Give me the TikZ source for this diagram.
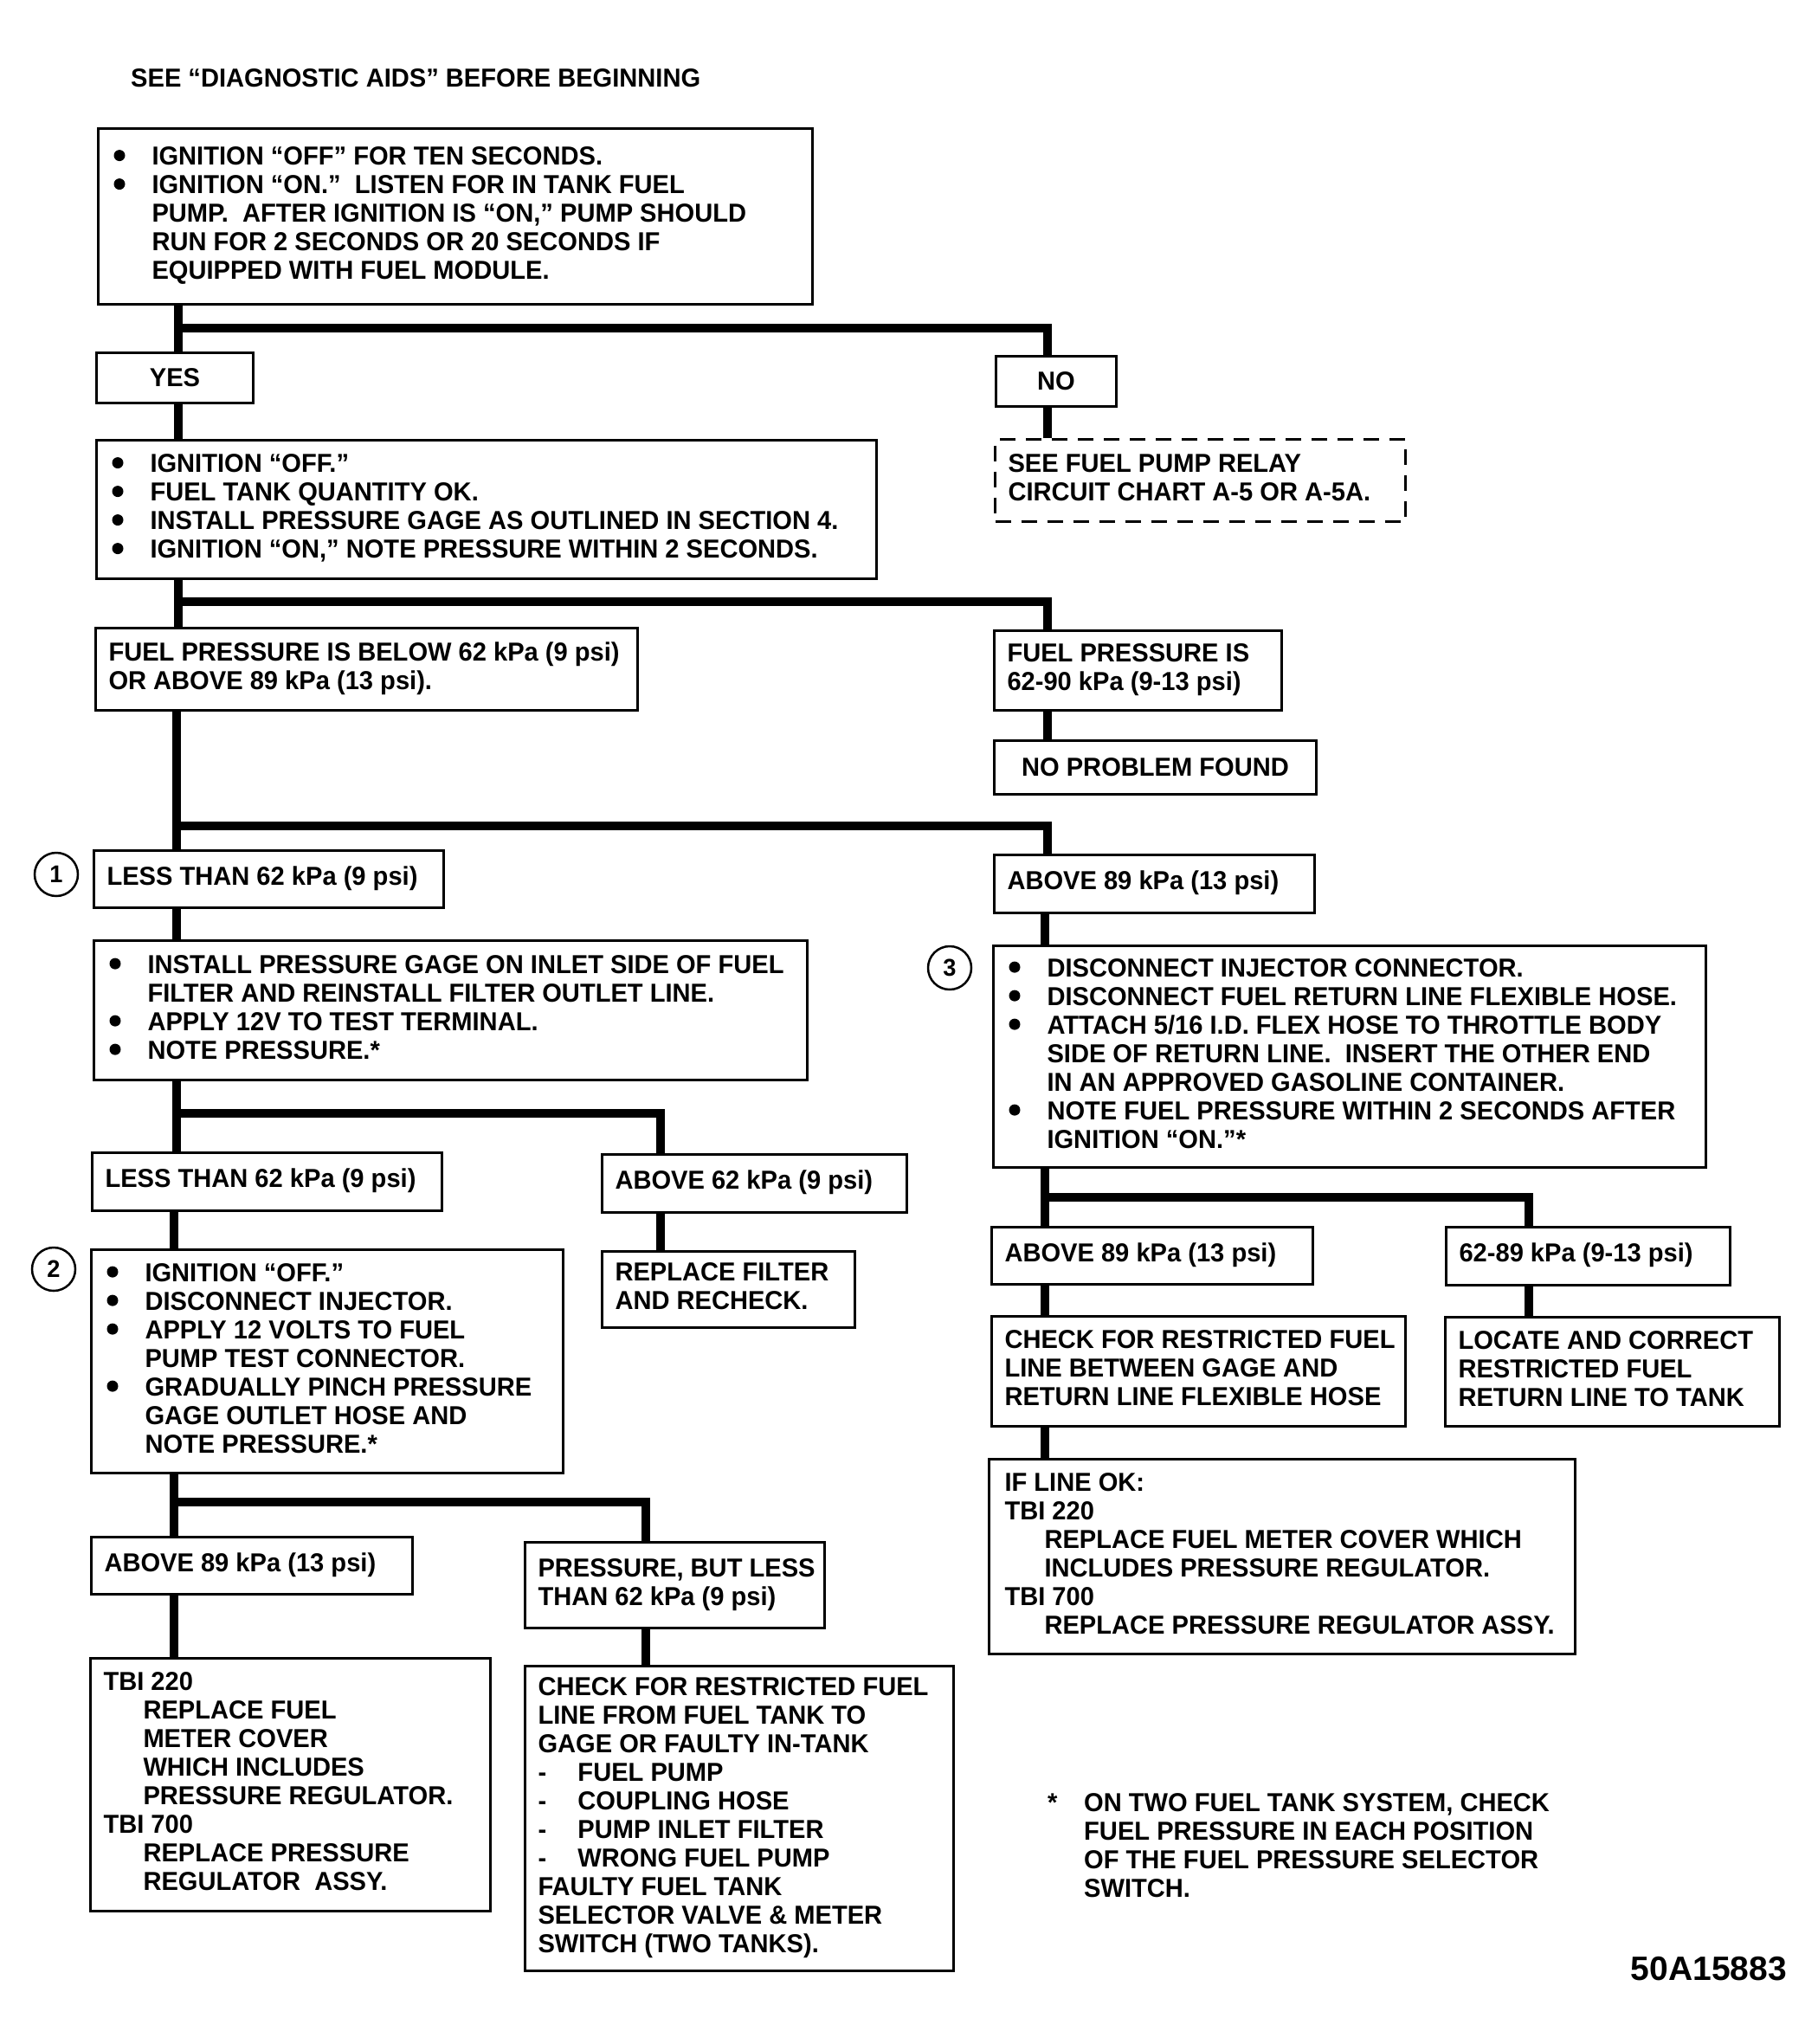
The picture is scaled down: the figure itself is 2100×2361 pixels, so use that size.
\documentclass[tikz,border=0pt]{standalone}
\usepackage{fontspec}
\usetikzlibrary{calc}
\newfontfamily\dgfont{Liberation Sans}[FakeStretch=0.97]
\newfontfamily\cdfont{Liberation Sans}
\newcommand{\myf}{\dgfont\bfseries\fontsize{30}{33}\selectfont}
\newcommand{\kTab}[2]{\makebox[#1pt][l]{\begin{tabular}{@{}l@{}}#2\end{tabular}}}
\newcommand{\kBul}{\hspace*{45pt}}
\newcommand{\kInd}{\hspace*{45pt}}
\newcommand{\kTi}{\hspace*{46pt}}
\newcommand{\kDash}{\makebox[46pt][l]{-}}
\tikzset{
  bx/.style={draw, line width=3pt, anchor=north west, inner xsep=15pt, inner ysep=0pt, font=\myf},
  bbx/.style={bx, inner xsep=17pt},
  cbx/.style={draw, line width=3pt, anchor=north west, inner sep=0pt, font=\myf},
  conn/.style={line width=10pt, line join=miter},
  num/.style={draw, circle, line width=2.5pt, minimum size=50pt, inner sep=0pt, font=\dgfont\bfseries\fontsize{28}{30}\selectfont},
  bulletdot/.style={fill=black},
}
\begin{document}
\begin{tikzpicture}[x=1pt,y=-1pt]
\fill[white] (0,0) rectangle (2100,2361);
\useasboundingbox (0,0) rectangle (2100,2361);

\node[anchor=base west, inner sep=0pt, font=\myf] (title) at (151,100) {SEE “DIAGNOSTIC AIDS” BEFORE BEGINNING};

\node[bbx, minimum height=203pt] (box1) at (112,147) {\kTab{791}{%
\kBul IGNITION “OFF” FOR TEN SECONDS.\\
\kBul IGNITION “ON.”\ \ LISTEN FOR IN TANK FUEL\\
\kInd PUMP.\ \ AFTER IGNITION IS “ON,” PUMP SHOULD\\
\kInd RUN FOR 2 SECONDS OR 20 SECONDS IF\\
\kInd EQUIPPED WITH FUEL MODULE.}};

\node[cbx, minimum width=181pt, minimum height=58pt] (yes) at (110,406) {YES};
\node[cbx, minimum width=139pt, minimum height=58pt] (no) at (1149,410) {NO};
\node[bx, dash pattern=on 18pt off 12pt, minimum height=95pt] (relay) at (1148,506) {\kTab{444}{%
SEE FUEL PUMP RELAY\\
CIRCUIT CHART A-5 OR A-5A.}};

\node[bbx, minimum height=160pt] (box2) at (110,507) {\kTab{867}{%
\kBul IGNITION “OFF.”\\
\kBul FUEL TANK QUANTITY OK.\\
\kBul INSTALL PRESSURE GAGE AS OUTLINED IN SECTION 4.\\
\kBul IGNITION “ON,” NOTE PRESSURE WITHIN 2 SECONDS.}};

\node[bx, minimum height=95pt] (below) at (109,724) {\kTab{596}{%
FUEL PRESSURE IS BELOW 62 kPa (9 psi)\\
OR ABOVE 89 kPa (13 psi).}};
\node[bx, minimum height=92pt] (ok) at (1147,727) {\kTab{302}{%
FUEL PRESSURE IS\\
62-90 kPa (9-13 psi)}};
\node[cbx, minimum width=372pt, minimum height=62pt] (nopf) at (1147,854) {NO PROBLEM FOUND};

\node[bx, minimum height=66pt] (less1) at (107,981) {\kTab{374}{LESS THAN 62 kPa (9 psi)}};
\node[bx, minimum height=67pt] (above1) at (1147,986) {\kTab{340}{ABOVE 89 kPa (13 psi)}};

\node[bbx, minimum height=161pt] (install) at (107,1085) {\kTab{790}{%
\kBul INSTALL PRESSURE GAGE ON INLET SIDE OF FUEL\\
\kInd FILTER AND REINSTALL FILTER OUTLET LINE.\\
\kBul APPLY 12V TO TEST TERMINAL.\\
\kBul NOTE PRESSURE.*}};

\node[bbx, minimum height=256pt] (box3) at (1146,1091) {\kTab{789}{%
\kBul DISCONNECT INJECTOR CONNECTOR.\\
\kBul DISCONNECT FUEL RETURN LINE FLEXIBLE HOSE.\\
\kBul ATTACH 5/16 I.D. FLEX HOSE TO THROTTLE BODY\\
\kInd SIDE OF RETURN LINE.\ \ INSERT THE OTHER END\\
\kInd IN AN APPROVED GASOLINE CONTAINER.\\
\kBul NOTE FUEL PRESSURE WITHIN 2 SECONDS AFTER\\
\kInd IGNITION “ON.”*}};

\node[bx, minimum height=67pt] (less2) at (105,1330) {\kTab{374}{LESS THAN 62 kPa (9 psi)}};
\node[bx, minimum height=67pt] (above62) at (694,1332) {\kTab{322}{ABOVE 62 kPa (9 psi)}};
\node[bx, minimum height=88pt] (replace) at (694,1444) {\kTab{262}{%
REPLACE FILTER\\
AND RECHECK.}};

\node[bbx, minimum height=258pt] (ign) at (104,1442) {\kTab{511}{%
\kBul IGNITION “OFF.”\\
\kBul DISCONNECT INJECTOR.\\
\kBul APPLY 12 VOLTS TO FUEL\\
\kInd PUMP TEST CONNECTOR.\\
\kBul GRADUALLY PINCH PRESSURE\\
\kInd GAGE OUTLET HOSE AND\\
\kInd NOTE PRESSURE.*}};

\node[bx, minimum height=66pt] (above2) at (104,1774) {\kTab{341}{ABOVE 89 kPa (13 psi)}};
\node[bx, minimum height=99pt] (pbl) at (605,1780) {\kTab{316}{%
PRESSURE, BUT LESS\\
THAN 62 kPa (9 psi)}};

\node[bx, minimum height=292pt] (tbi) at (103,1914) {\kTab{432}{%
TBI 220\\
\kTi REPLACE FUEL\\
\kTi METER COVER\\
\kTi WHICH INCLUDES\\
\kTi PRESSURE REGULATOR.\\
TBI 700\\
\kTi REPLACE PRESSURE\\
\kTi REGULATOR\ \ ASSY.}};

\node[bx, minimum height=352pt] (check) at (605,1923) {\kTab{465}{%
CHECK FOR RESTRICTED FUEL\\
LINE FROM FUEL TANK TO\\
GAGE OR FAULTY IN-TANK\\
\kDash FUEL PUMP\\
\kDash COUPLING HOSE\\
\kDash PUMP INLET FILTER\\
\kDash WRONG FUEL PUMP\\
FAULTY FUEL TANK\\
SELECTOR VALVE \& METER\\
SWITCH (TWO TANKS).}};

\node[bx, minimum height=66pt] (above3) at (1144,1416) {\kTab{341}{ABOVE 89 kPa (13 psi)}};
\node[bx, minimum height=67pt] (r6289) at (1669,1416) {\kTab{298}{62-89 kPa (9-13 psi)}};
\node[bx, minimum height=127pt] (checkr) at (1144,1519) {\kTab{448}{%
CHECK FOR RESTRICTED FUEL\\
LINE BETWEEN GAGE AND\\
RETURN LINE FLEXIBLE HOSE}};
\node[bx, minimum height=126pt] (locate) at (1668,1520) {\kTab{356}{%
LOCATE AND CORRECT\\
RESTRICTED FUEL\\
RETURN LINE TO TANK}};
\node[bx, inner xsep=18pt, minimum height=225pt] (ifok) at (1141,1684) {\kTab{641}{%
IF LINE OK:\\
TBI 220\\
\kTi REPLACE FUEL METER COVER WHICH\\
\kTi INCLUDES PRESSURE REGULATOR.\\
TBI 700\\
\kTi REPLACE PRESSURE REGULATOR ASSY.}};

% bullets (rows are 33pt apart, text block centred in each box)
\foreach \k in {0,1}   \fill[bulletdot] ($(box1.west)+(26,{-70.4+33*\k})$) circle (6.5);
\foreach \k in {0,1,2,3} \fill[bulletdot] ($(box2.west)+(26,{-53.9+33*\k})$) circle (6.5);
\foreach \k in {0,2,3} \fill[bulletdot] ($(install.west)+(26,{-53.9+33*\k})$) circle (6.5);
\foreach \k in {0,1,2,5} \fill[bulletdot] ($(box3.west)+(26,{-103.4+33*\k})$) circle (6.5);
\foreach \k in {0,1,2,4} \fill[bulletdot] ($(ign.west)+(26,{-103.4+33*\k})$) circle (6.5);

\node[num] (n1) at (65,1010) {1};
\node[num] (n2) at (62,1466) {2};
\node[num] (n3) at (1097,1118) {3};

\node[anchor=base west, inner sep=0pt, font=\myf] (foot) at (1210,2092) {\begin{tabular}[t]{@{}l@{}}%
\makebox[42pt][l]{*}ON TWO FUEL TANK SYSTEM, CHECK\\
\hspace*{42pt}FUEL PRESSURE IN EACH POSITION\\
\hspace*{42pt}OF THE FUEL PRESSURE SELECTOR\\
\hspace*{42pt}SWITCH.\end{tabular}};

\node[anchor=base east, inner sep=0pt, font=\cdfont\bfseries\fontsize{39}{40}\selectfont] (code) at (2064,2287) {50A15883};

% connector coordinates
\coordinate (L1) at (206,379);
\coordinate (R1) at (1210,0);
\coordinate (L2) at (206,695);
\coordinate (L3) at (204,954);
\coordinate (L4) at (204,1286);
\coordinate (M4) at (763,0);
\coordinate (L5) at (201,1735);
\coordinate (M5) at (746,0);
\coordinate (R6) at (1207,1383);
\coordinate (F6) at (1766,0);

\draw[conn] (box1.south -| L1) -- (yes.north -| L1);
\draw[conn] (L1) -| (no.north -| R1);
\draw[conn] (no.south -| R1) -- (relay.north -| R1);
\draw[conn] (yes.south -| L1) -- (box2.north -| L1);
\draw[conn] (box2.south -| L2) -- (below.north -| L2);
\draw[conn] (L2) -| (ok.north -| R1);
\draw[conn] (ok.south -| R1) -- (nopf.north -| R1);
\draw[conn] (below.south -| L3) -- (less1.north -| L3);
\draw[conn] (L3) -| (above1.north -| R1);
\draw[conn] (less1.south -| L3) -- (install.north -| L3);
\draw[conn] (install.south -| L4) -- (less2.north -| L4);
\draw[conn] (L4) -| (above62.north -| M4);
\draw[conn] (above62.south -| M4) -- (replace.north -| M4);
\draw[conn] (less2.south -| L5) -- (ign.north -| L5);
\draw[conn] (ign.south -| L5) -- (above2.north -| L5);
\draw[conn] (L5) -| (pbl.north -| M5);
\draw[conn] (above2.south -| L5) -- (tbi.north -| L5);
\draw[conn] (pbl.south -| M5) -- (check.north -| M5);
\draw[conn] (above1.south -| R6) -- (box3.north -| R6);
\draw[conn] (box3.south -| R6) -- (above3.north -| R6);
\draw[conn] (R6) -| (r6289.north -| F6);
\draw[conn] (above3.south -| R6) -- (checkr.north -| R6);
\draw[conn] (r6289.south -| F6) -- (locate.north -| F6);
\draw[conn] (checkr.south -| R6) -- (ifok.north -| R6);
\end{tikzpicture}
\end{document}
